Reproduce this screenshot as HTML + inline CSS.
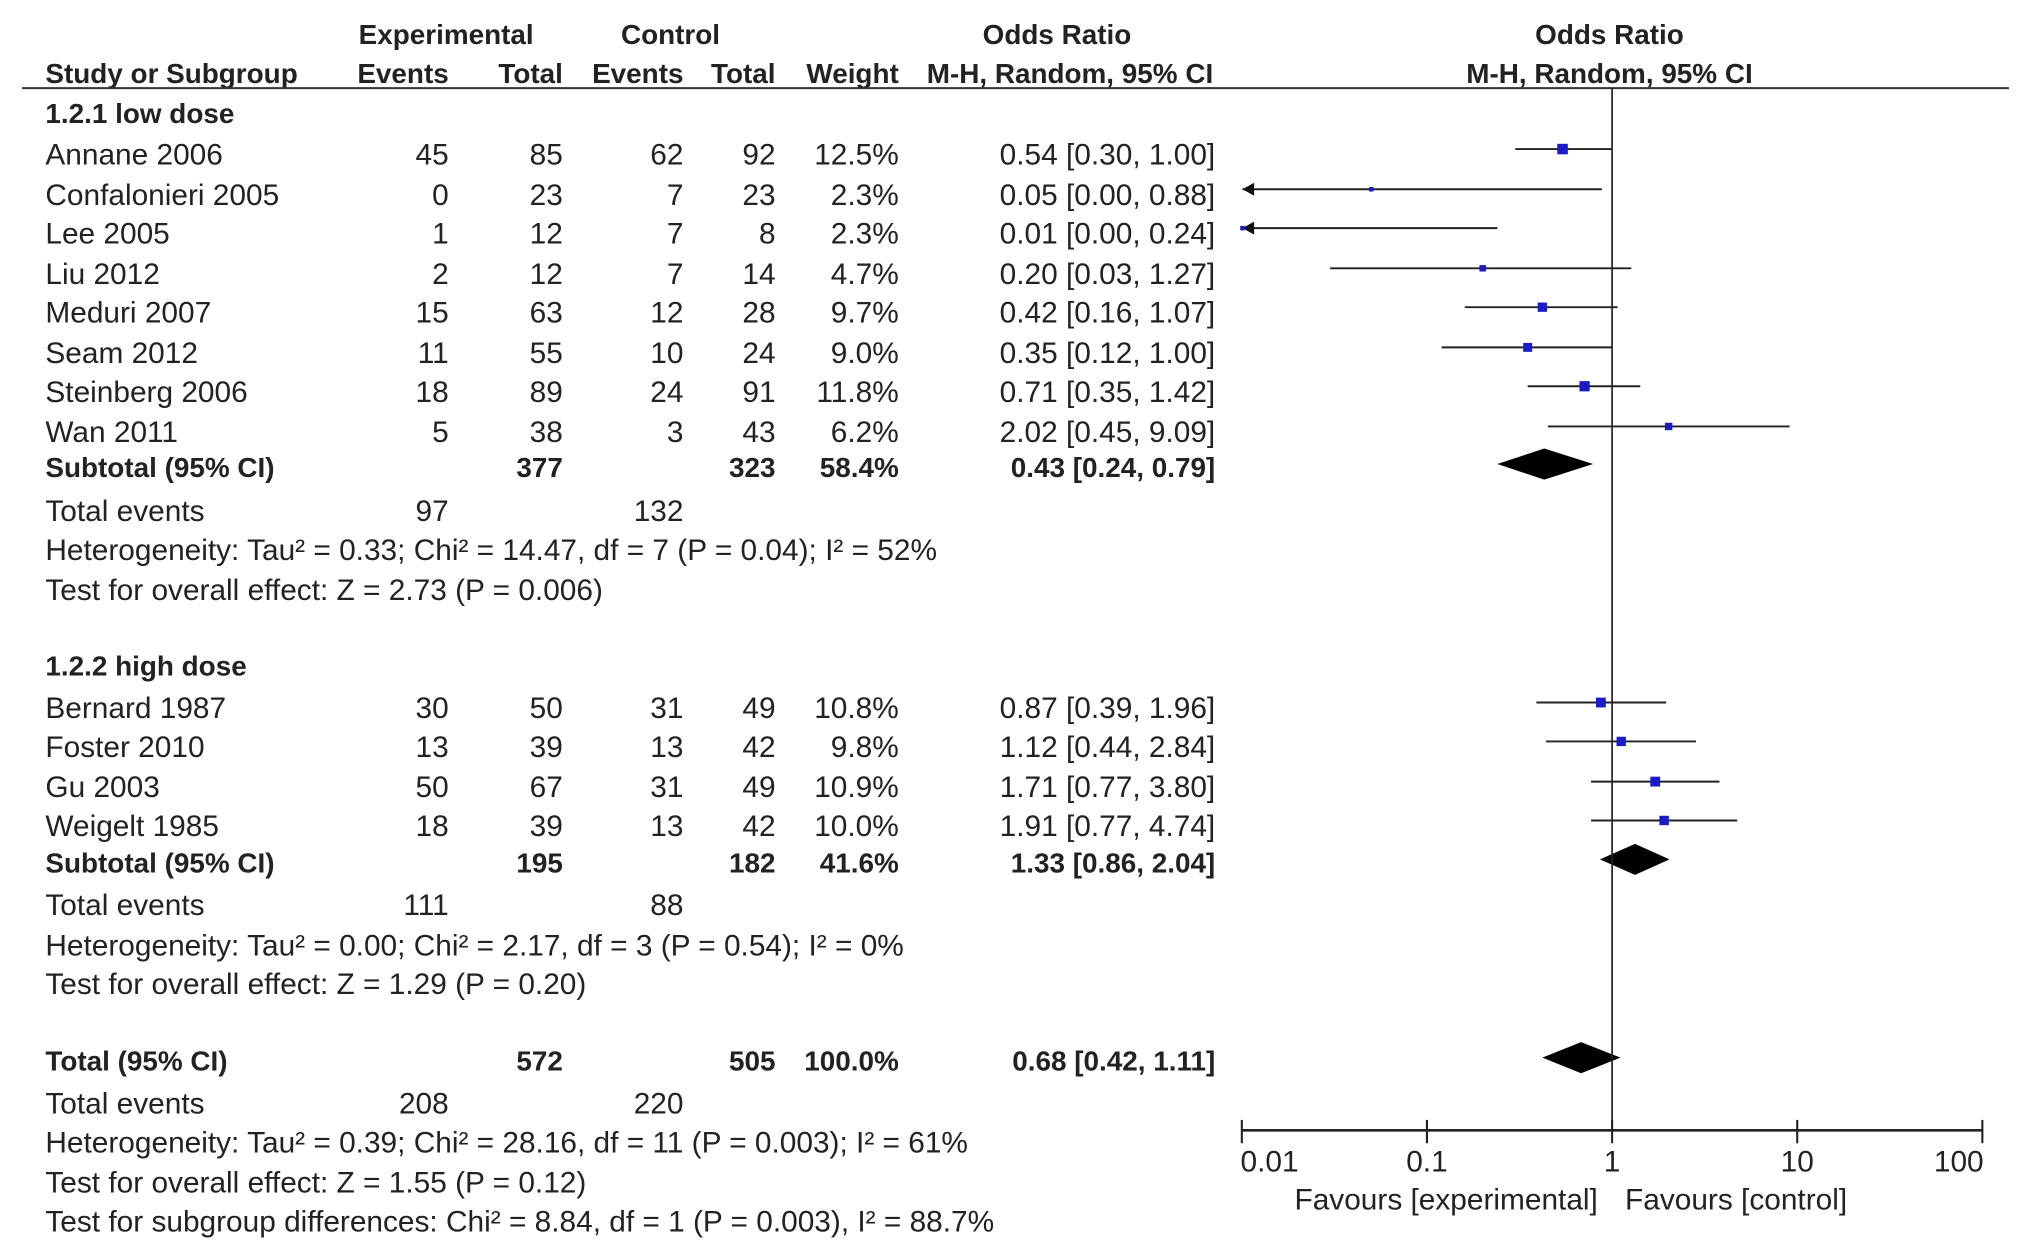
<!DOCTYPE html>
<html><head><meta charset="utf-8"><style>
html,body{margin:0;padding:0;background:#fff;}
svg{display:block;}
text{font-family:"Liberation Sans",Arial,sans-serif;font-size:23px;fill:#222;}
.b{font-weight:bold;font-size:21.5px;}
</style></head><body>
<svg id="chart" width="2031" height="1256" viewBox="0 0 1566 969" preserveAspectRatio="none" xmlns="http://www.w3.org/2000/svg">
<g>
<text class="b" x="344" y="34" text-anchor="middle">Experimental</text>
<text class="b" x="517" y="34" text-anchor="middle">Control</text>
<text class="b" x="815" y="34" text-anchor="middle">Odds Ratio</text>
<text class="b" x="1241" y="34" text-anchor="middle">Odds Ratio</text>
<text class="b" x="35" y="64">Study or Subgroup</text>
<text class="b" x="346" y="64" text-anchor="end">Events</text>
<text class="b" x="434" y="64" text-anchor="end">Total</text>
<text class="b" x="527" y="64" text-anchor="end">Events</text>
<text class="b" x="598" y="64" text-anchor="end">Total</text>
<text class="b" x="693" y="64" text-anchor="end">Weight</text>
<text class="b" x="825" y="64" text-anchor="middle">M-H, Random, 95% CI</text>
<text class="b" x="1241" y="64" text-anchor="middle">M-H, Random, 95% CI</text>
<line x1="17" y1="68" x2="1549" y2="68" stroke="#333" stroke-width="1.6"/>
</g>
<g id="rows"></g>
<g id="plot"></g>
</svg>
<script>
const studyNames=["Annane 2006","Confalonieri 2005","Lee 2005","Liu 2012","Meduri 2007","Seam 2012","Steinberg 2006","Wan 2011","Bernard 1987","Foster 2010","Gu 2003","Weigelt 1985"];
const studyRowY=[120,151,181,212,242,273,303,334,547,577,608,638];
const expEvents=[45,0,1,2,15,11,18,5,30,13,50,18];
const expTotal=[85,23,12,12,63,55,89,38,50,39,67,39];
const ctrlEvents=[62,7,7,7,12,10,24,3,31,13,31,13];
const ctrlTotal=[92,23,8,14,28,24,91,43,49,42,49,42];
const weights=[12.5,2.3,2.3,4.7,9.7,9.0,11.8,6.2,10.8,9.8,10.9,10.0];
const orVals=[0.54,0.05,0.01,0.20,0.42,0.35,0.71,2.02,0.87,1.12,1.71,1.91];
const ciLow=[0.30,0.00,0.00,0.03,0.16,0.12,0.35,0.45,0.39,0.44,0.77,0.77];
const ciHigh=[1.00,0.88,0.24,1.27,1.07,1.00,1.42,9.09,1.96,2.84,3.80,4.74];
const summaryLabels=["Subtotal (95% CI)","Subtotal (95% CI)","Total (95% CI)"];
const summaryY=[361,666,819];
const summaryExpTotal=[377,195,572];
const summaryCtrlTotal=[323,182,505];
const summaryWeight=["58.4%","41.6%","100.0%"];
const summaryOR=[0.43,1.33,0.68];
const summaryLow=[0.24,0.86,0.42];
const summaryHigh=[0.79,2.04,1.11];
const tickVals=[0.01,0.1,1,10,100];
const tickLabels=["0.01","0.1","1","10","100"];

const NS="http://www.w3.org/2000/svg";
const rows=document.getElementById('rows');
const plot=document.getElementById('plot');
const X0=1243, DEC=142.75, XMIN=958, XMAX=1529, AXY=872;
function xs(v){const x=X0+DEC*Math.log10(Math.max(v,1e-6));return Math.max(XMIN,Math.min(XMAX,x));}
function mk(tag,attrs,parent){const e=document.createElementNS(NS,tag);for(const k in attrs)e.setAttribute(k,attrs[k]);parent.appendChild(e);return e;}
function txt(parent,x,y,s,anchor,bold,name){const t=mk('text',{x:x,y:y,'text-anchor':anchor||'start'},parent);if(bold)t.setAttribute('class','b');t.textContent=s;


return t;}
const f2=v=>v.toFixed(2);

const misc=[
 [35,88,"1.2.1 low dose",true],[35,514,"1.2.2 high dose",true],
 [35,395,"Total events",false],[35,699,"Total events",false],[35,852,"Total events",false],
 [35,425,"Heterogeneity: Tau² = 0.33; Chi² = 14.47, df = 7 (P = 0.04); I² = 52%",false],
 [35,456,"Test for overall effect: Z = 2.73 (P = 0.006)",false],
 [35,730,"Heterogeneity: Tau² = 0.00; Chi² = 2.17, df = 3 (P = 0.54); I² = 0%",false],
 [35,760,"Test for overall effect: Z = 1.29 (P = 0.20)",false],
 [35,882,"Heterogeneity: Tau² = 0.39; Chi² = 28.16, df = 11 (P = 0.003); I² = 61%",false],
 [35,913,"Test for overall effect: Z = 1.55 (P = 0.12)",false],
 [35,943,"Test for subgroup differences: Chi² = 8.84, df = 1 (P = 0.003), I² = 88.7%",false]
];
misc.forEach(m=>txt(rows,m[0],m[1]+7,m[2],'start',m[3],'text-line'));
[[395,"97","132"],[699,"111","88"],[852,"208","220"]].forEach(r=>{txt(rows,346,r[0]+7,r[1],'end',false,'total-events-exp');txt(rows,527,r[0]+7,r[2],'end',false,'total-events-ctrl');});

studyNames.forEach((n,i)=>{
 const y=studyRowY[i], ty=y+7;
 txt(rows,35,ty,n,'start',false,'study-name');
 txt(rows,346,ty,String(expEvents[i]),'end',false,'exp-events');
 txt(rows,434,ty,String(expTotal[i]),'end',false,'exp-total');
 txt(rows,527,ty,String(ctrlEvents[i]),'end',false,'ctrl-events');
 txt(rows,598,ty,String(ctrlTotal[i]),'end',false,'ctrl-total');
 txt(rows,693,ty,weights[i].toFixed(1)+'%','end',false,'weight');
 txt(rows,937,ty,f2(orVals[i])+' ['+f2(ciLow[i])+', '+f2(ciHigh[i])+']','end',false,'odds-ratio-ci');
 const g=mk('g',{},plot);
 
 
 const xl=xs(ciLow[i]), xh=xs(ciHigh[i]);
 mk('line',{x1:xl,y1:y-5,x2:xh,y2:y-5,stroke:'#222','stroke-width':1.5},g);
 if(ciLow[i]<0.01){mk('polygon',{points:`${XMIN},${y-5} ${XMIN+9},${y-10} ${XMIN+9},${y}`,fill:'#111'},g);}
 const s=2.3*Math.sqrt(weights[i]);
 mk('rect',{x:xs(orVals[i])-s/2,y:y-5-s/2,width:s,height:s,fill:'#1a1ac8'},g);
});

summaryLabels.forEach((l,i)=>{
 const y=summaryY[i], ty=y+7;
 txt(rows,35,ty,l,'start',true,'summary-label');
 txt(rows,434,ty,String(summaryExpTotal[i]),'end',true,'summary-exp-total');
 txt(rows,598,ty,String(summaryCtrlTotal[i]),'end',true,'summary-ctrl-total');
 txt(rows,693,ty,summaryWeight[i],'end',true,'summary-weight');
 txt(rows,937,ty,f2(summaryOR[i])+' ['+f2(summaryLow[i])+', '+f2(summaryHigh[i])+']','end',true,'summary-or-ci');
 const cy=y-3;
 const d=mk('polygon',{points:`${xs(summaryLow[i])},${cy} ${xs(summaryOR[i])},${cy-12} ${xs(summaryHigh[i])},${cy} ${xs(summaryOR[i])},${cy+12}`,fill:'#000'},plot);
 
 
});

const nl=mk('line',{x1:X0,y1:68,x2:X0,y2:AXY,stroke:'#222','stroke-width':1.3},plot);


const ax=mk('line',{x1:XMIN,y1:AXY,x2:XMAX,y2:AXY,stroke:'#222','stroke-width':2},plot);


tickVals.forEach((v,i)=>{
 const x=X0+DEC*Math.log10(v);
 const t=mk('line',{x1:x,y1:AXY-8,x2:x,y2:AXY+10,stroke:'#222','stroke-width':1.6},plot);
 
 
 const anchor=i===0?'start':(i===tickVals.length-1?'end':'middle');
 txt(plot,i===0?x-1:(i===tickVals.length-1?x+1:x),904,tickLabels[i],anchor,false,'x-tick-label').setAttribute('fill','#444');
});
txt(plot,1232,933,'Favours [experimental]','end',false,'favours-experimental').setAttribute('fill','#555');
txt(plot,1253,933,'Favours [control]','start',false,'favours-control').setAttribute('fill','#555');
</script>
</body></html>
